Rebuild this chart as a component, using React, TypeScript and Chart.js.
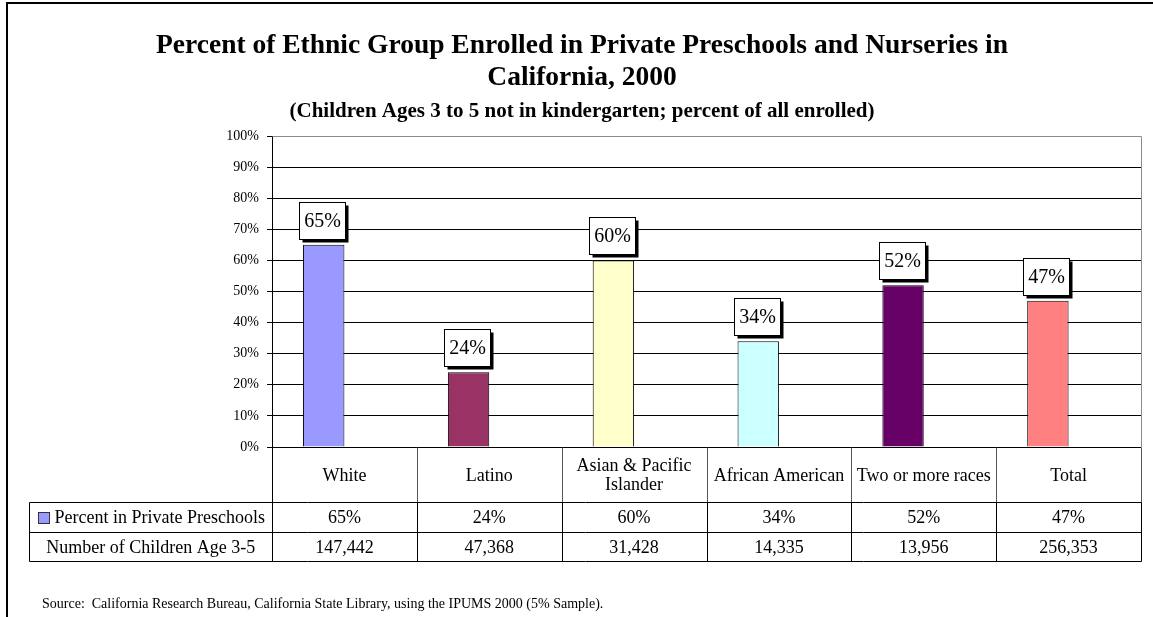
import React, { useEffect, useRef } from "react";
import { Chart, registerables } from "chart.js";

Chart.register(...registerables);

// Ethnic groups shown along the category axis and in the data table header
const categories = [
  "White",
  "Latino",
  "Asian & Pacific Islander",
  "African American",
  "Two or more races",
  "Total",
];
// Percent of each group enrolled in private preschools / nurseries
const percentEnrolled = [65, 24, 60, 34, 52, 47];
// Number of children aged 3-5 (not in kindergarten) in each group
const childCounts = [147442, 47368, 31428, 14335, 13956, 256353];
const barColors = ["#9999FF", "#993366", "#FFFFCC", "#CCFFFF", "#660066", "#FF8080"];
const seriesNames = ["Percent in Private Preschools", "Number of Children Age 3-5"];
const yMax = 100;
const yStep = 10;

const titleLines = [
  "Percent of Ethnic Group Enrolled in Private Preschools and Nurseries in",
  "California, 2000",
];
const subtitle = "(Children Ages 3 to 5 not in kindergarten; percent of all enrolled)";
const sourceNote =
  "Source:  California Research Bureau, California State Library, using the IPUMS 2000 (5% Sample).";

const SERIF = "'Liberation Serif', 'Times New Roman', serif";
const W = 1153;
const H = 617;

const pct = (v: number) => `${v}%`;
const thousands = (v: number) => v.toLocaleString("en-US");

function wrapText(ctx: CanvasRenderingContext2D, text: string, maxWidth: number) {
  const words = text.split(" ");
  const lines: string[] = [];
  let line = "";
  for (const w of words) {
    const test = line ? line + " " + w : w;
    if (ctx.measureText(test).width > maxWidth && line) {
      lines.push(line);
      line = w;
    } else {
      line = test;
    }
  }
  if (line) lines.push(line);
  return lines;
}

// Frame, titles and source note
const framePlugin = {
  id: "frame",
  beforeDraw(chart: any) {
    const { ctx } = chart;
    ctx.save();
    ctx.fillStyle = "#fff";
    ctx.fillRect(0, 0, W, H);
    ctx.restore();
  },
  afterDraw(chart: any) {
    const { ctx, chartArea } = chart;
    ctx.save();
    // outer frame
    ctx.strokeStyle = "#000";
    ctx.lineWidth = 2;
    ctx.strokeRect(7, 3, 1160, 700);

    // plot area border (top and right)
    ctx.strokeStyle = "#8c8c8c";
    ctx.lineWidth = 1;
    ctx.beginPath();
    ctx.moveTo(Math.round(chartArea.left) + 0.5, Math.round(chartArea.top) + 0.5);
    ctx.lineTo(Math.round(chartArea.right) + 0.5, Math.round(chartArea.top) + 0.5);
    ctx.lineTo(Math.round(chartArea.right) + 0.5, Math.round(chartArea.bottom) + 0.5);
    ctx.stroke();

    // titles
    const cx = 582;
    ctx.fillStyle = "#000";
    ctx.textAlign = "center";
    ctx.textBaseline = "alphabetic";
    ctx.font = `bold 27.5px ${SERIF}`;
    ctx.fillText(titleLines[0], cx, 53);
    ctx.fillText(titleLines[1], cx, 85);
    ctx.font = `bold 21px ${SERIF}`;
    ctx.fillText(subtitle, cx, 117);

    // source note
    ctx.textAlign = "left";
    ctx.font = `14px ${SERIF}`;
    ctx.fillText(sourceNote, 42, 608);
    ctx.restore();
  },
};

// Value labels: white boxes with a drop shadow above each bar
const valueLabelPlugin = {
  id: "valueLabels",
  afterDatasetsDraw(chart: any) {
    const { ctx } = chart;
    const meta = chart.getDatasetMeta(0);
    ctx.save();
    ctx.font = `20px ${SERIF}`;
    ctx.textAlign = "center";
    ctx.textBaseline = "middle";
    meta.data.forEach((bar: any, i: number) => {
      const text = pct(percentEnrolled[i]);
      const bw = 46;
      const bh = 37;
      const cx = bar.x - 1.5;
      const left = Math.round(cx - bw / 2) + 0.5;
      const top = Math.round(bar.y - 6 - bh) + 0.5;
      ctx.fillStyle = "#000";
      ctx.fillRect(left + 3, top + 3, bw, bh);
      ctx.fillStyle = "#fff";
      ctx.fillRect(left, top, bw, bh);
      ctx.strokeStyle = "#000";
      ctx.lineWidth = 1;
      ctx.strokeRect(left, top, bw, bh);
      ctx.fillStyle = "#000";
      ctx.fillText(text, left + bw / 2, top + bh / 2 + 1);
    });
    ctx.restore();
  },
};

// Data table under the plot area
const dataTablePlugin = {
  id: "dataTable",
  afterDraw(chart: any) {
    const { ctx, chartArea } = chart;
    const n = categories.length;
    const colW = (chartArea.right - chartArea.left) / n;
    const top = Math.round(chartArea.bottom) + 0.5;
    const row1 = top + 55;
    const row2 = row1 + 30;
    const bottom = row2 + 29;
    const tableLeft = 29.5;
    const right = Math.round(chartArea.right) + 0.5;

    ctx.save();
    ctx.lineWidth = 1;
    // header cell separators (lighter)
    ctx.strokeStyle = "#555";
    ctx.beginPath();
    for (let i = 1; i <= n; i++) {
      const x = Math.round(chartArea.left + i * colW) + 0.5;
      ctx.moveTo(x, top);
      ctx.lineTo(x, row1);
    }
    ctx.stroke();

    ctx.strokeStyle = "#000";
    ctx.beginPath();
    // horizontal rules
    [row1, row2, bottom].forEach((y) => {
      ctx.moveTo(tableLeft, y);
      ctx.lineTo(right, y);
    });
    // left edge of the series-name column
    ctx.moveTo(tableLeft, row1);
    ctx.lineTo(tableLeft, bottom);
    // axis continues down through the table
    const x0 = Math.round(chartArea.left) + 0.5;
    ctx.moveTo(x0, top);
    ctx.lineTo(x0, bottom);
    // column separators in the value rows
    for (let i = 1; i <= n; i++) {
      const x = Math.round(chartArea.left + i * colW) + 0.5;
      ctx.moveTo(x, row1);
      ctx.lineTo(x, bottom);
    }
    ctx.stroke();

    ctx.fillStyle = "#000";
    ctx.font = `18px ${SERIF}`;
    ctx.textAlign = "center";
    ctx.textBaseline = "middle";
    const headerMid = (top + row1) / 2;
    const r1Mid = (row1 + row2) / 2;
    const r2Mid = (row2 + bottom) / 2;
    const lineH = 19;
    categories.forEach((cat, i) => {
      const cx = chartArea.left + (i + 0.5) * colW;
      const lines = wrapText(ctx, cat, colW - 6);
      lines.forEach((ln, k) => {
        const y = headerMid + (k - (lines.length - 1) / 2) * lineH;
        ctx.fillText(ln, cx, y + 1);
      });
      ctx.fillText(pct(percentEnrolled[i]), cx, r1Mid + 1);
      ctx.fillText(thousands(childCounts[i]), cx, r2Mid + 1);
    });

    // series names, with the legend key for the plotted series
    const nameColC = (tableLeft + chartArea.left) / 2;
    const keySize = 11;
    const gap = 5;
    const t1 = ctx.measureText(seriesNames[0]).width;
    const groupW = keySize + gap + t1;
    const gx = Math.round(nameColC - groupW / 2) + 0.5;
    ctx.fillStyle = barColors[0];
    ctx.fillRect(gx, Math.round(r1Mid - keySize / 2) + 0.5, keySize, keySize);
    ctx.strokeStyle = "#333";
    ctx.strokeRect(gx, Math.round(r1Mid - keySize / 2) + 0.5, keySize, keySize);
    ctx.fillStyle = "#000";
    ctx.textAlign = "left";
    ctx.fillText(seriesNames[0], gx + keySize + gap, r1Mid + 1);
    ctx.textAlign = "center";
    ctx.fillText(seriesNames[1], nameColC, r2Mid + 1);
    ctx.restore();
  },
};

export default function App() {
  const canvasRef = useRef<HTMLCanvasElement | null>(null);

  useEffect(() => {
    const canvas = canvasRef.current;
    if (!canvas) return;
    const chart = new Chart(canvas, {
      type: "bar",
      data: {
        labels: categories,
        datasets: [
          {
            label: seriesNames[0],
            data: percentEnrolled,
            backgroundColor: barColors,
            borderColor: "#000",
            borderWidth: 1,
            categoryPercentage: 2 / 3.5,
            barPercentage: 1,
            yAxisID: "y",
          },
          {
            label: seriesNames[1],
            data: childCounts,
            backgroundColor: "rgba(0,0,0,0)",
            borderWidth: 0,
            categoryPercentage: 2 / 3.5,
            barPercentage: 1,
            yAxisID: "y2",
          },
        ],
      },
      options: {
        responsive: false,
        animation: false,
        devicePixelRatio: 1,
        layout: { padding: { left: 0, top: 136, right: W - 1141, bottom: H - 447 } },
        plugins: {
          legend: { display: false },
          tooltip: { enabled: false },
          title: { display: false },
        },
        scales: {
          x: { display: false, offset: true },
          y: {
            min: 0,
            max: yMax,
            afterFit: (scale: any) => {
              scale.width = 272;
            },
            ticks: {
              stepSize: yStep,
              callback: (v: any) => pct(Number(v)),
              color: "#000",
              font: { family: SERIF, size: 14 },
              padding: 8,
            },
            grid: {
              color: "#000",
              lineWidth: 1,
              tickLength: 5,
              tickColor: "#000",
              drawTicks: true,
            },
            border: { display: true, color: "#000", width: 1 },
          },
          y2: {
            display: false,
            min: 0,
            position: "right",
          },
        },
      },
      plugins: [framePlugin, valueLabelPlugin, dataTablePlugin],
    } as any);
    return () => chart.destroy();
  }, []);

  return (
    <div style={{ position: "fixed", left: 0, top: 0, width: W, height: H, background: "#fff" }}>
      <canvas ref={canvasRef} width={W} height={H} style={{ display: "block" }} />
    </div>
  );
}
